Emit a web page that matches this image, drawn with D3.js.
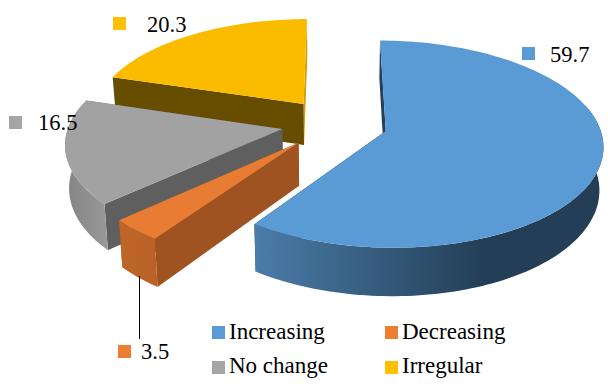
<!DOCTYPE html>
<html>
<head>
	<meta charset="utf-8">
	<title>Pie</title>
	<script type="text/javascript" src="https://cdn.jsdelivr.net/npm/d3@7"></script>
	<style>
		body {
			margin: 0;
			background: #fff;
		}
		text {
			font-family: "Liberation Serif", "Times New Roman", serif;
			fill: #000;
		}
	</style>
</head>

<body>

	<div id="chart"></div>

	<script>

	// data
	const categories = ["Increasing", "Decreasing", "No change", "Irregular"];
	const values     = [59.7, 3.5, 16.5, 20.3];

	// colours, same order as categories
	const legendColors = ["#5B9BD5", "#ED7D31", "#A5A5A5", "#FFC000"];
	const topColors    = ["#5B9BD5", "#E87C33", "#A2A2A2", "#FBBC00"];
	const radialColors = ["#24405A", "#9E5320", "#5F5F5F", "#674D00"];
	const endColors    = ["#24405A", "#9E5320", "#5F5F5F", "#D2A000"];
	const rimFrom      = ["#4A7CA8", "#BE6529", "#868686", "#8A6800"];
	const rimTo        = ["#233E56", "#BA6126", "#999999", "#8A6800"];

	// layout
	const width    = 616;
	const height   = 386;
	const centerX  = 334.5;
	const centerY  = 123.5;
	const radiusX  = 213;      // horizontal radius of the disc
	const radiusY  = 100;      // vertical radius after tilt
	const depth    = 42;       // wall height
	const perspective = 0.125;
	const bottomShrink = 0.985; // bottom face is a bit smaller than the top
	const explode  = 0.25;     // fraction of the radius
	const labelFont  = 22.5;
	const legendFont = 23;

	// only this part of the outer wall faces the viewer
	const wallFrom = 75 * Math.PI / 180;
	const wallTo   = 285 * Math.PI / 180;

	const labelPos = [
		{ sx: 522, sy: 47, tx: 550, ty: 62 },
		{ sx: 118, sy: 345, tx: 141, ty: 359 },
		{ sx: 9, sy: 116, tx: 38, ty: 130 },
		{ sx: 113, sy: 17, tx: 147, ty: 32 },
	];
	const legendPos = [
		{ sx: 212, sy: 326, tx: 229, ty: 339 },
		{ sx: 385, sy: 326, tx: 402, ty: 339 },
		{ sx: 212, sy: 361, tx: 229, ty: 373 },
		{ sx: 385, sy: 361, tx: 402, ty: 373 },
	];

	const svg = d3.select("#chart")
		.append("svg")
		.attr("width", width)
		.attr("height", height)
		.attr("viewBox", [0, 0, width, height])
		.style("display", "block");

	const defs = svg.append("defs");
	const line = d3.line();

	const arcs = d3.pie().sort(null).value(d => d)(values);

	// disc coordinates -> screen, z = 0 top face, z = 1 bottom face
	function project(u, v, z) {
		const k = 1 / (1 - perspective * v);
		const shrink = z ? bottomShrink : 1;
		return [
			centerX + radiusX * u * k * shrink,
			centerY + (radiusY * v + depth * z) * k
		];
	}

	function slicePoint(arc, a, r, z) {
		const mid = (arc.startAngle + arc.endAngle) / 2;
		const u = explode * Math.sin(mid) + r * Math.sin(a);
		const v = -explode * Math.cos(mid) - r * Math.cos(a);
		return project(u, v, z);
	}

	function rim(arc, from, to, z) {
		const n = Math.ceil((to - from) * 40);
		return d3.range(n + 1).map(i => slicePoint(arc, from + (to - from) * i / n, 1, z));
	}

	function radialWall(arc, a) {
		return [
			slicePoint(arc, a, 0, 0),
			slicePoint(arc, a, 1, 0),
			slicePoint(arc, a, 1, 1),
			slicePoint(arc, a, 0, 1)
		];
	}

	// back to front
	const drawOrder = [3, 2, 1, 0];

	drawOrder.forEach(i => {
		const arc = arcs[i];
		const g = svg.append("g");

		g.append("path")
			.attr("fill", endColors[i])
			.attr("d", line(radialWall(arc, arc.endAngle)) + "Z");

		g.append("path")
			.attr("fill", radialColors[i])
			.attr("d", line(radialWall(arc, arc.startAngle)) + "Z");

		const from = Math.max(arc.startAngle, wallFrom);
		const to = Math.min(arc.endAngle, wallTo);
		if (from < to) {
			const upper = rim(arc, from, to, 0);
			const lower = rim(arc, from, to, 1);

			const xs = lower.map(p => p[0]);
			const gradId = "rim" + i;
			const grad = defs.append("linearGradient")
				.attr("id", gradId)
				.attr("gradientUnits", "userSpaceOnUse")
				.attr("x1", d3.min(xs)).attr("x2", i === 0 ? d3.min(xs) + 230 : d3.max(xs))
				.attr("y1", 0).attr("y2", 0);
			grad.append("stop").attr("offset", 0).attr("stop-color", rimFrom[i]);
			grad.append("stop").attr("offset", 1).attr("stop-color", rimTo[i]);

			g.append("path")
				.attr("fill", `url(#${gradId})`)
				.attr("d", line(upper.concat(lower.slice().reverse())) + "Z");
		}

		g.append("path")
			.attr("fill", topColors[i])
			.attr("d", line([slicePoint(arc, 0, 0, 0)].concat(rim(arc, arc.startAngle, arc.endAngle, 0))) + "Z");
	});

	// leader line of the small slice
	svg.append("line")
		.attr("x1", 139.5).attr("x2", 139.5)
		.attr("y1", 276).attr("y2", 339)
		.attr("stroke", "#000")
		.attr("stroke-width", 1);

	// value labels
	const labels = svg.append("g").selectAll("g")
		.data(values)
		.join("g");

	labels.append("rect")
		.attr("x", (d, i) => labelPos[i].sx)
		.attr("y", (d, i) => labelPos[i].sy)
		.attr("width", 13)
		.attr("height", 13)
		.attr("fill", (d, i) => legendColors[i]);

	labels.append("text")
		.attr("x", (d, i) => labelPos[i].tx)
		.attr("y", (d, i) => labelPos[i].ty)
		.style("font-size", labelFont + "px")
		.text(d => d3.format(".1f")(d));

	// legend
	const legend = svg.append("g").selectAll("g")
		.data(categories)
		.join("g");

	legend.append("rect")
		.attr("x", (d, i) => legendPos[i].sx)
		.attr("y", (d, i) => legendPos[i].sy)
		.attr("width", 13)
		.attr("height", 13)
		.attr("fill", (d, i) => legendColors[i]);

	legend.append("text")
		.attr("x", (d, i) => legendPos[i].tx)
		.attr("y", (d, i) => legendPos[i].ty)
		.style("font-size", legendFont + "px")
		.text(d => d);

	</script>

</body>

</html>
